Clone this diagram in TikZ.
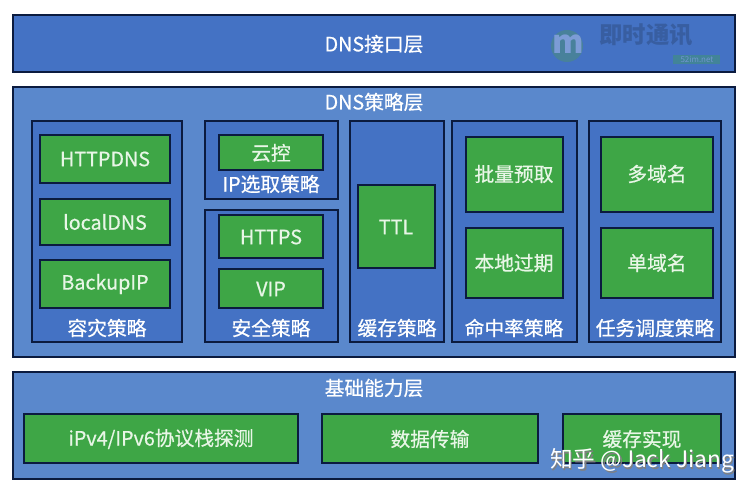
\documentclass[tikz,border=0pt]{standalone}
\usepackage{fontspec}
\setmainfont{Noto Sans CJK SC}
\newfontfamily\lblfont{Noto Sans CJK SC}[FakeBold=0.6]
\definecolor{navy}{HTML}{0B1B3F}
\definecolor{darkblue}{HTML}{4472C4}
\definecolor{lightblue}{HTML}{5A88CC}
\definecolor{grn}{HTML}{3EA646}
\definecolor{txtg}{HTML}{E8F6E6}
\tikzset{
  px/.style={x=0.75pt,y=-0.75pt},
  layerbox/.style={draw=navy,line width=1.5pt},
  groupbox/.style={draw=navy,line width=1.5pt,fill=darkblue},
  greenbox/.style={draw=navy,line width=1.5pt,fill=grn},
  lbl/.style={text=white,font=\lblfont\fontsize{14.8}{16}\selectfont,inner sep=0pt},
  glbl/.style={text=txtg,font=\lblfont\fontsize{14.8}{16}\selectfont,inner sep=0pt},
}
\begin{document}
\begin{tikzpicture}[px]
\useasboundingbox (0,0) rectangle (756,498);
\fill[white] (0,0) rectangle (756,498);
% layers
\draw[layerbox,fill=darkblue] (13,15) rectangle (735,72);
\node[lbl] (l1) at (374,44) {DNS接口层};
% faint watermark
\fill[grn!30!darkblue!90!gray] (567,46) circle (16);
\node[text=darkblue!70!white,font=\bfseries\itshape\fontsize{24}{24}\selectfont,inner sep=0pt] (wm) at (568,44) {m};
\node[text=darkblue!82!black,font=\bfseries\fontsize{17.5}{18}\selectfont,inner sep=0pt] (wm2) at (646,35) {即时通讯};
\fill[grn!35!darkblue] (673,55) rectangle (720,64);
\node[text=darkblue!75!white,font=\fontsize{6}{7}\selectfont,inner sep=0pt] (wm3) at (697,59.5) {52im.net};

\draw[layerbox,fill=lightblue] (13,87) rectangle (735,357);
\node[lbl] (l2) at (374,102) {DNS策略层};

% 容灾策略
\draw[groupbox] (32,121) rectangle (182,342);
\draw[greenbox] (40,135) rectangle (170,183);
\node[glbl] (httpdns) at (105,159) {HTTPDNS};
\draw[greenbox] (40,199) rectangle (170,245);
\node[glbl] (localdns) at (105,222) {localDNS};
\draw[greenbox] (40,260) rectangle (170,308);
\node[glbl] (backup) at (105,284) {BackupIP};
\node[lbl] (g1) at (107,328) {容灾策略};

% IP选取策略
\draw[groupbox] (205,121) rectangle (338,199);
\draw[greenbox] (219,135) rectangle (323,170);
\node[glbl] (yk) at (271,153) {云控};
\node[lbl] (g2) at (271,184) {IP选取策略};

% 安全策略
\draw[groupbox] (205,210) rectangle (338,342);
\draw[greenbox] (219,215) rectangle (323,258);
\node[glbl] (https) at (271,237) {HTTPS};
\draw[greenbox] (219,269) rectangle (323,308);
\node[glbl] (vip) at (271,289) {VIP};
\node[lbl] (g3) at (271,328) {安全策略};

% 缓存策略
\draw[groupbox] (350,121) rectangle (444,342);
\draw[greenbox] (358,185) rectangle (435,268);
\node[glbl] (ttl) at (396,227) {TTL};
\node[lbl] (g4) at (397,328) {缓存策略};

% 命中率策略
\draw[groupbox] (452,121) rectangle (577,342);
\draw[greenbox] (466,137) rectangle (563,212);
\node[glbl] (plyq) at (514,174) {批量预取};
\draw[greenbox] (466,228) rectangle (563,298);
\node[glbl] (bdgq) at (514,263) {本地过期};
\node[lbl] (g5) at (514,328) {命中率策略};

% 任务调度策略
\draw[groupbox] (589,121) rectangle (721,342);
\draw[greenbox] (601,137) rectangle (713,212);
\node[glbl] (dym) at (657,174) {多域名};
\draw[greenbox] (601,228) rectangle (713,298);
\node[glbl] (sym) at (657,263) {单域名};
\node[lbl] (g6) at (655,328) {任务调度策略};

% 基础能力层
\draw[layerbox,fill=lightblue] (13,372) rectangle (735,479);
\node[lbl] (l3) at (374,388) {基础能力层};
\draw[greenbox] (24,414) rectangle (298,463);
\node[glbl] (ipv) at (161,439) {iPv4/IPv6协议栈探测};
\draw[greenbox] (322,414) rectangle (538,463);
\node[glbl] (sjcs) at (430,439) {数据传输};
\draw[greenbox] (563,414) rectangle (721,463);
\node[glbl] (hcsx) at (642,439) {缓存实现};

% zhihu watermark
\node[text=black!50,font=\fontsize{17}{18}\selectfont,inner sep=0pt] (zhs) at (643.5,462.5) {知乎 @Jack Jiang};
\node[text=white,font=\fontsize{17}{18}\selectfont,inner sep=0pt] (zh) at (642,461) {知乎 @Jack Jiang};
\end{tikzpicture}
\end{document}
